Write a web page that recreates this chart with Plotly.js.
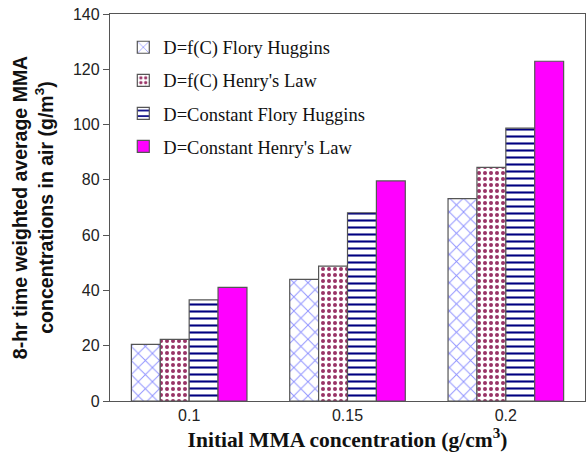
<!DOCTYPE html>
<html>
<head>
<meta charset="utf-8">
<script src="https://cdn.plot.ly/plotly-3.0.1.min.js"></script>
<style>html,body{margin:0;padding:0;background:#fff;}#chart{width:587px;height:460px;}</style>
</head>
<body>
<div id="chart"></div>
<script>
const categories = ["0.1", "0.15", "0.2"];
const seriesNames = ["D=f(C) Flory Huggins", "D=f(C) Henry's Law", "D=Constant Flory Huggins", "D=Constant Henry's Law"];
const fcFloryHuggins = [20.5, 44.0, 73.2];
const fcHenrysLaw = [22.3, 48.8, 84.5];
const constFloryHuggins = [36.6, 68.1, 98.7];
const constHenrysLaw = [41.1, 79.6, 122.9];
const yTicks = [0, 20, 40, 60, 80, 100, 120, 140];

const values = [fcFloryHuggins, fcHenrysLaw, constFloryHuggins, constHenrysLaw];
const markers = [
  {color: "#ffffff", line: {color: "#555555", width: 1.2},
   pattern: {shape: "x", fgcolor: "#8f92ff", bgcolor: "#ffffff", size: 10, solidity: 0.18, fillmode: "replace"}},
  {color: "#ffffff", line: {color: "#555555", width: 1.2},
   pattern: {shape: ".", fgcolor: "#993366", bgcolor: "#ffffff", size: 6, solidity: 0.35, fillmode: "replace"}},
  {color: "#ffffff", line: {color: "#555555", width: 1.2},
   pattern: {shape: "-", fgcolor: "#000080", bgcolor: "#ffffff", size: 7, solidity: 0.3, fillmode: "replace"}},
  {color: "#ff00ff", line: {color: "#555555", width: 1.2}}
];

const data = seriesNames.map((name, i) => ({
  type: "bar",
  name: name,
  x: categories,
  y: values[i],
  marker: markers[i],
  legendgroup: "g" + i
}));

const sans = "Liberation Sans";
const serif = "Liberation Serif";

const layout = {
  width: 587, height: 460,
  margin: {l: 110, r: 2, t: 14, b: 59},
  paper_bgcolor: "#ffffff", plot_bgcolor: "#ffffff",
  barmode: "group", bargap: 0.27, bargroupgap: 0,
  showlegend: true,
  legend: {x: 0.028, y: 0.962, xanchor: "left", yanchor: "top",
    font: {family: serif, size: 18.5, color: "#111"},
    bgcolor: "rgba(0,0,0,0)", tracegroupgap: 6, itemwidth: 30},
  xaxis: {
    type: "category", range: [-0.5, 2.5],
    showline: true, linecolor: "#555", linewidth: 1.2, mirror: true,
    ticks: "", showgrid: false, zeroline: false,
    tickfont: {family: sans, size: 16, color: "#222"},
    title: {text: "Initial MMA concentration (g/cm<sup>3</sup>)",
      font: {family: serif, size: 21.5, color: "#111", weight: "bold"},
      standoff: 8}
  },
  yaxis: {
    range: [0, 140], tickvals: yTicks,
    showline: true, linecolor: "#555", linewidth: 1.2, mirror: true,
    ticks: "outside", ticklen: 6, tickcolor: "#555", tickwidth: 1,
    showgrid: false, zeroline: false,
    tickfont: {family: sans, size: 16, color: "#222"},
    title: {text: "8-hr time weighted average MMA<br>concentrations in air (g/m<sup>3</sup>)",
      font: {family: sans, size: 19.5, color: "#111", weight: "bold"},
      standoff: 14}
  }
};

Plotly.newPlot("chart", data, layout, {displayModeBar: false, staticPlot: true});
</script>
</body>
</html>
